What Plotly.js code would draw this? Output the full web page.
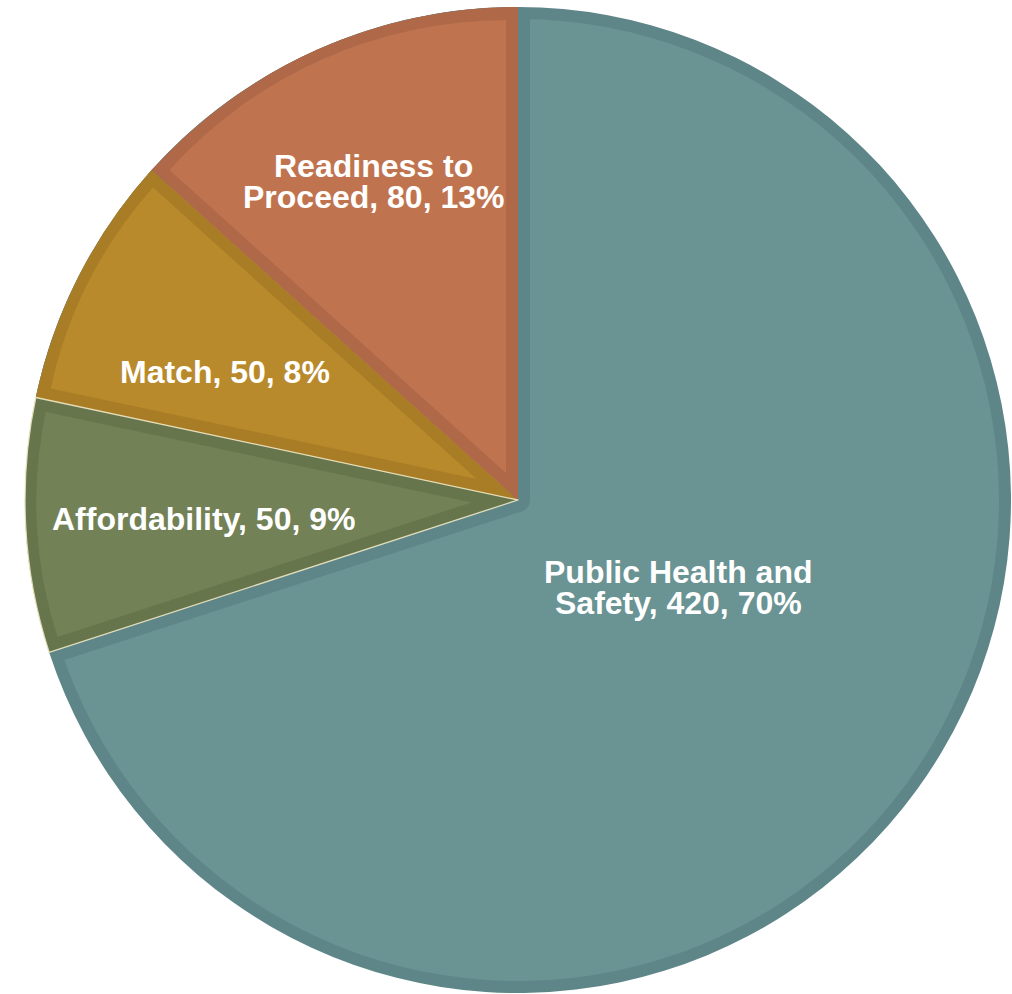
<!DOCTYPE html>
<html>
<head>
<meta charset="utf-8">
<script src="https://cdn.plot.ly/plotly-3.0.1.min.js"></script>
<style>
  html, body { margin: 0; padding: 0; background: #ffffff; }
  #chart { width: 1012px; height: 994px; }
</style>
</head>
<body>
<div id="chart"></div>
<script>
// ---------------- data ----------------
const categories = ['Public Health and Safety', 'Affordability', 'Match', 'Readiness to Proceed'];
const values = [420, 50, 50, 80];
const pctLabels = ['70%', '9%', '8%', '13%'];
const labelLines = [['Public Health and', 'Safety'], ['Affordability'], ['Match'], ['Readiness to', 'Proceed']];

// ---------------- styles ----------------
const lightColors = ['#6A9394', '#738157', '#B98A2C', '#BF744F'];
const darkColors  = ['#5E8688', '#67754C', '#A97D26', '#AF6848'];
const CLEAR = 'rgba(0,0,0,0)';
const SEP = 'rgba(240,232,196,0.9)';

const W = 1012, H = 994;
const CX = 518, CY = 500, R = 493, BAND = 12;
// label placement: fraction of radius along (slice bisector + angle shift)
const LABEL_R  = [0.37, 0.64, 0.648, 0.71];
const LABEL_DA = [-7.5, -0.5, -3.4, -0.4];
const FONT_SIZE = 32, LINE_GAP = 31;

function dom(cx, cy, r) {
  const c = v => Math.max(0, Math.min(1, v));
  return { x: [c((cx - r) / W), c((cx + r) / W)], y: [c((H - cy - r) / H), c((H - cy + r) / H)] };
}

const total = values.reduce((a, b) => a + b, 0);
const rad = d => d * Math.PI / 180;

const base = {
  type: 'pie', sort: false, direction: 'clockwise', rotation: 0,
  textinfo: 'none', hoverinfo: 'skip', showlegend: false,
  labels: categories, values: values
};

const traces = [];
// 1. full pie in border (dark) colours
traces.push(Object.assign({}, base, {
  domain: dom(CX, CY, R),
  marker: { colors: darkColors, line: { width: 0 } }
}));
// 2. big slice light fill, inset from the outer rim
traces.push(Object.assign({}, base, {
  domain: dom(CX, CY, R - BAND),
  marker: { colors: [lightColors[0], CLEAR, CLEAR, CLEAR], line: { width: 0 } }
}));
// 3. dark band of big slice along its radial edges
const rest = total - values[0];
traces.push(Object.assign({}, base, {
  labels: [categories[0], 'rest'], values: [values[0], rest],
  domain: dom(CX, CY, R - BAND),
  marker: { colors: [CLEAR, CLEAR], line: { color: [CLEAR, darkColors[0]], width: [0, 2 * BAND] } }
}));
// 4. small slices dark fill again
traces.push(Object.assign({}, base, {
  domain: dom(CX, CY, R),
  marker: { colors: [CLEAR, darkColors[1], darkColors[2], darkColors[3]], line: { width: 0 } }
}));
// 5. small slices light fill, inset on all sides
let cum = 0;
const bisectors = [];
values.forEach((v, i) => {
  const theta = v / total * 360;
  const bis = cum + theta / 2;
  bisectors.push(bis);
  if (i > 0) {
    const half = rad(theta / 2);
    const s = BAND / Math.sin(half);
    const cx = CX + s * Math.sin(rad(bis));
    const cy = CY - s * Math.cos(rad(bis));
    const r = R - BAND - s * (1 + Math.cos(half)) / 2;
    const cols = values.map((_, j) => j === i ? lightColors[i] : CLEAR);
    traces.push(Object.assign({}, base, {
      domain: dom(cx, cy, r),
      marker: { colors: cols, line: { width: 0 } }
    }));
  }
  cum += theta;
});
// 6. thin pale separators around the Affordability slice
traces.push(Object.assign({}, base, {
  domain: dom(CX, CY, R),
  marker: { colors: [CLEAR, CLEAR, CLEAR, CLEAR],
            line: { color: [CLEAR, SEP, CLEAR, CLEAR], width: [0, 1.3, 0, 0] } }
}));

// ---------------- labels ----------------
const annotations = [];
values.forEach((v, i) => {
  const lines = labelLines[i].slice();
  lines[lines.length - 1] = lines[lines.length - 1] + ', ' + v + ', ' + pctLabels[i];
  const ang = rad(bisectors[i] + LABEL_DA[i]);
  const rr = LABEL_R[i] * R;
  const px = CX + rr * Math.sin(ang);
  const py = CY - rr * Math.cos(ang);
  const n = lines.length;
  lines.forEach((t, k) => {
    annotations.push({
      xref: 'paper', yref: 'paper',
      x: px / W, y: (H - py) / H,
      xanchor: 'center', yanchor: 'middle',
      yshift: ((n - 1) / 2 - k) * LINE_GAP,
      showarrow: false,
      borderpad: 0,
      text: t,
      font: { family: 'Liberation Sans, Arial, sans-serif', size: FONT_SIZE, color: '#ffffff', weight: 'bold' }
    });
  });
});

const layout = {
  width: W, height: H,
  margin: { l: 0, r: 0, t: 0, b: 0, pad: 0 },
  paper_bgcolor: '#ffffff', plot_bgcolor: '#ffffff',
  showlegend: false,
  annotations: annotations
};

Plotly.newPlot('chart', traces, layout, { staticPlot: true, displayModeBar: false });
</script>
</body>
</html>
